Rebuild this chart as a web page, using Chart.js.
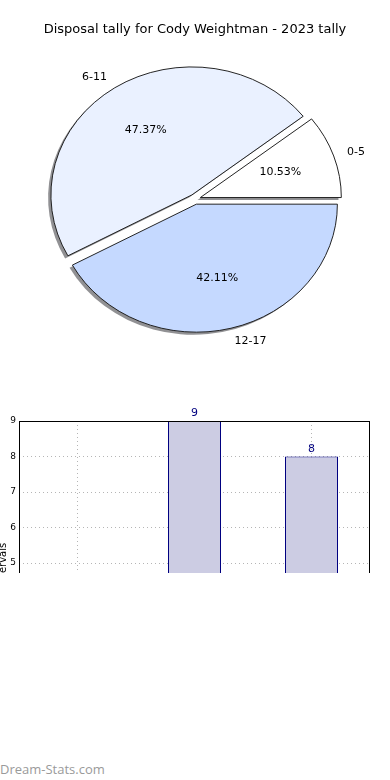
<!DOCTYPE html>
<html>
<head>
<meta charset="utf-8">
<title>Disposal tally for Cody Weightman - 2023 tally</title>
<script src="https://cdn.jsdelivr.net/npm/chart.js@4.4.0/dist/chart.umd.min.js"></script>
<style>
  html, body { margin: 0; padding: 0; background: #fff; }
  body { width: 390px; height: 780px; position: relative; overflow: hidden; }
  #pie-wrap { position: absolute; left: 0; top: 0; width: 390px; height: 400px; }
  #bar-wrap { position: absolute; left: 0; top: 380px; width: 390px; height: 193px; overflow: hidden; }
  .watermark {
    position: absolute; left: 0; top: 760px;
    font-family: 'Open Sans', 'DejaVu Sans', sans-serif; font-size: 13px;
    color: #9a9a9a;
  }
</style>
</head>
<body>
  <div id="pie-wrap"><canvas id="pieChart" width="390" height="400"></canvas></div>
  <div id="bar-wrap"><canvas id="barChart" width="390" height="400"></canvas></div>
  <div class="watermark">Dream-Stats.com</div>

<script>
  // Chart data
  const intervals = ['0-5', '6-11', '12-17'];
  const tallies = [2, 9, 8];
  const yTickMin = 0;
  const yTickMax = 9;

  // Pie look (matplotlib style: exploded, squashed, with shadow)
  const sliceColours = ['#ffffff', '#eaf1ff', '#c5d9ff'];
  const shadowColour = 'rgba(55, 55, 60, 0.55)';
  const PIE_RADIUS = 141;
  const PIE_SQUASH = 128 / 141;
  const EXPLODE = 0.04;
  const SHADOW = 0.02;

  const FONT = "'DejaVu Sans', sans-serif";

  document.addEventListener('DOMContentLoaded', function() {
    drawPie();
    drawBars();
  });

  function midAngle(arc) {
    return (arc.startAngle + arc.endAngle) / 2;
  }

  // Draws the wedges ourselves so each one can be pushed out and squashed
  const explodedPiePlugin = {
    id: 'explodedPie',
    beforeDatasetsDraw(chart) {
      const ctx = chart.ctx;
      const arcs = chart.getDatasetMeta(0).data;
      if (!arcs.length) return;
      const cx = arcs[0].x;
      const cy = arcs[0].y;
      const r = arcs[0].outerRadius;

      ctx.save();
      // flip so the slices run counter-clockwise, and squash vertically
      ctx.translate(cx, cy);
      ctx.scale(1, -PIE_SQUASH);
      ctx.translate(-cx, -cy);

      // shadows first so every wedge sits on top of them
      arcs.forEach(arc => {
        const a = midAngle(arc);
        ctx.save();
        ctx.translate(Math.cos(a) * EXPLODE * r - SHADOW * r, Math.sin(a) * EXPLODE * r - SHADOW * r);
        ctx.beginPath();
        ctx.moveTo(arc.x, arc.y);
        ctx.arc(arc.x, arc.y, arc.outerRadius, arc.startAngle, arc.endAngle);
        ctx.closePath();
        ctx.fillStyle = shadowColour;
        ctx.fill();
        ctx.restore();
      });

      arcs.forEach(arc => {
        const a = midAngle(arc);
        ctx.save();
        ctx.translate(Math.cos(a) * EXPLODE * r, Math.sin(a) * EXPLODE * r);
        arc.draw(ctx);
        ctx.restore();
      });

      ctx.restore();
      return false;
    },
    afterDraw(chart) {
      const ctx = chart.ctx;
      const arcs = chart.getDatasetMeta(0).data;
      const total = tallies.reduce((s, v) => s + v, 0);
      ctx.save();
      ctx.fillStyle = '#000';
      ctx.font = '11px ' + FONT;
      ctx.textBaseline = 'middle';
      arcs.forEach((arc, i) => {
        const a = midAngle(arc);
        const r = arc.outerRadius;
        const ox = arc.x + Math.cos(a) * EXPLODE * r;
        const oy = arc.y - Math.sin(a) * EXPLODE * r * PIE_SQUASH;

        // category label outside the wedge
        ctx.textAlign = Math.cos(a) >= 0 ? 'left' : 'right';
        ctx.fillText(intervals[i], ox + Math.cos(a) * 1.1 * r, oy - Math.sin(a) * 1.1 * r * PIE_SQUASH);

        // percentage inside
        ctx.textAlign = 'center';
        const pct = (tallies[i] / total * 100).toFixed(2) + '%';
        ctx.fillText(pct, ox + Math.cos(a) * 0.6 * r, oy - Math.sin(a) * 0.6 * r * PIE_SQUASH);
      });
      ctx.restore();
    }
  };

  function drawPie() {
    const pieCtx = document.getElementById('pieChart').getContext('2d');

    new Chart(pieCtx, {
      type: 'pie',
      data: {
        labels: intervals,
        datasets: [{
          data: tallies,
          backgroundColor: sliceColours,
          borderColor: '#1a1a1a',
          borderWidth: 1,
          borderJoinStyle: 'miter'
        }]
      },
      options: {
        responsive: false,
        animation: false,
        rotation: 90,
        radius: PIE_RADIUS,
        layout: { padding: { top: 0, bottom: 39.4 } },
        plugins: {
          legend: { display: false },
          tooltip: { enabled: false },
          title: {
            display: true,
            text: 'Disposal tally for Cody Weightman - 2023 tally',
            color: '#000',
            font: { family: FONT, size: 13, weight: 'normal' },
            padding: { top: 22.2, bottom: 0 }
          }
        }
      },
      plugins: [explodedPiePlugin]
    });
  }

  // Value labels above bars and the black frame round the plot
  const barExtrasPlugin = {
    id: 'barExtras',
    afterDatasetsDraw(chart) {
      const ctx = chart.ctx;
      const bars = chart.getDatasetMeta(0).data;
      ctx.save();
      ctx.fillStyle = '#00007f';
      ctx.font = '11px ' + FONT;
      ctx.textAlign = 'center';
      ctx.textBaseline = 'alphabetic';
      bars.forEach((bar, i) => {
        ctx.fillText(String(tallies[i]), bar.x, bar.y - 5);
      });
      ctx.restore();
    },
    afterDraw(chart) {
      const ctx = chart.ctx;
      const area = chart.chartArea;
      ctx.save();
      ctx.strokeStyle = '#000';
      ctx.lineWidth = 1;
      ctx.strokeRect(area.left + 0.5, area.top + 0.5, area.right - area.left - 1, area.bottom - area.top);
      ctx.restore();
    }
  };

  function drawBars() {
    const barCtx = document.getElementById('barChart').getContext('2d');

    new Chart(barCtx, {
      type: 'bar',
      data: {
        labels: intervals,
        datasets: [{
          data: tallies,
          backgroundColor: 'rgb(204, 204, 227)',
          borderColor: '#000080',
          borderWidth: 1,
          borderSkipped: false,
          barPercentage: 53 / 117,
          categoryPercentage: 1
        }]
      },
      options: {
        responsive: false,
        animation: false,
        layout: { padding: { top: 41, right: 20, bottom: 19.5, left: 0 } },
        plugins: {
          legend: { display: false },
          tooltip: { enabled: false }
        },
        scales: {
          x: {
            offset: true,
            z: 1,
            grid: { offset: false, color: '#b5b5b5', drawTicks: false },
            border: { display: false, dash: [1, 3] },
            ticks: { color: '#000', font: { family: FONT, size: 9 } },
            afterFit: function(scale) { scale.height = 20; }
          },
          y: {
            min: yTickMin,
            max: yTickMax,
            z: 1,
            grid: { color: '#b5b5b5', drawTicks: false },
            border: { display: false, dash: [1, 3] },
            ticks: { stepSize: 1, padding: 3, color: '#000', font: { family: FONT, size: 9 } },
            title: {
              display: true,
              text: 'No. of intervals',
              color: '#000',
              font: { family: FONT, size: 10 },
              padding: { top: -3, bottom: 0 }
            },
            afterFit: function(scale) { scale.width = 19; }
          }
        }
      },
      plugins: [barExtrasPlugin]
    });
  }
</script>
</body>
</html>
